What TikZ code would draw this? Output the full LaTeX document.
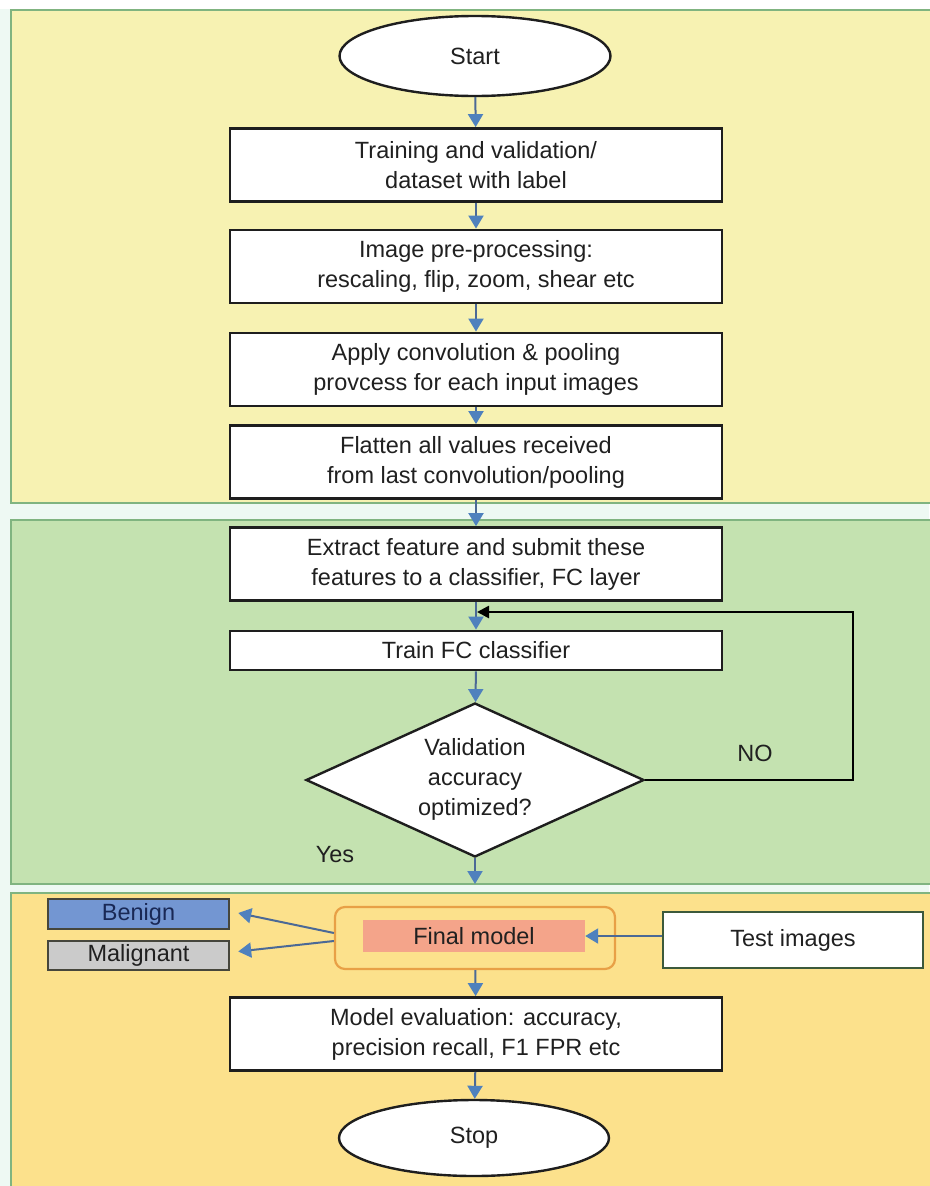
\documentclass[tikz,border=0pt]{standalone}
\usepackage{fontspec}
\newfontfamily\bodyfont{Liberation Sans}
\usetikzlibrary{shapes.geometric,arrows.meta,calc}
\definecolor{yellowp}{RGB}{247,242,178}
\definecolor{greenp}{RGB}{196,226,176}
\definecolor{orangep}{RGB}{252,225,140}
\definecolor{panelb}{RGB}{128,180,128}
\definecolor{gapc}{RGB}{238,249,243}
\definecolor{arrc}{RGB}{79,129,189}
\definecolor{arrline}{RGB}{75,105,150}
\definecolor{boxline}{RGB}{30,30,30}
\definecolor{txt}{RGB}{32,32,32}
\definecolor{fmline}{RGB}{232,160,70}
\definecolor{fmfill}{RGB}{244,164,138}
\definecolor{testline}{RGB}{60,90,60}
\definecolor{benfill}{RGB}{115,150,210}
\definecolor{benline}{RGB}{70,70,60}
\definecolor{malfill}{RGB}{203,203,203}
\definecolor{bentext}{RGB}{25,40,85}
\begin{document}
\begin{tikzpicture}[x=1pt,y=-1pt,
  every node/.style={font=\bodyfont\fontsize{23.5}{30}\selectfont, text=txt, inner sep=0pt, align=center},
  panel/.style={draw=panelb, line width=2pt},
  proc/.style={draw=boxline, line width=2.8pt, fill=white, minimum width=492pt, minimum height=73pt},
  term/.style={ellipse, draw=boxline, line width=2.4pt, fill=white, minimum width=271pt, minimum height=80pt},
  arr/.style={draw=arrline, line width=2pt, -{Triangle[length=13pt,width=15pt,color=arrc]}},
  looparr/.style={draw=black, line width=2.6pt, -{Triangle[length=12pt,width=12pt]}},
  lab/.style={minimum width=181pt, minimum height=30pt, draw=benline, line width=2.4pt}
]
\useasboundingbox (0,0) rectangle (929,1186);
\fill[gapc] (0,0) rectangle (929,1186);
\fill[white] (0,0) rectangle (929,9);
% panels
\draw[panel, fill=yellowp] (11,10) rectangle (945,503);
\draw[panel, fill=greenp] (11,520) rectangle (945,884);
\draw[panel, fill=orangep] (11,893) rectangle (945,1200);

% nodes
\node[term] (start) at (475,56) {Start};
\node[proc] (b1) at (476,165) {Training and validation/\\dataset with label};
\node[proc] (b2) at (476,266.5) {Image pre-processing:\\rescaling, flip, zoom, shear etc};
\node[proc] (b3) at (476,369.5) {Apply convolution \& pooling\\provcess for each input images};
\node[proc] (b4) at (476,462) {Flatten all values received\\from last convolution/pooling};
\node[proc] (b5) at (476,564) {Extract feature and submit these\\features to a classifier, FC layer};
\node[proc, minimum height=39pt] (train) at (476,650.5) {Train FC classifier};
\node[diamond, draw=boxline, line width=2.4pt, fill=white, aspect=2.2, minimum width=338pt, minimum height=154pt] (dia) at (475,780) {};
\node (diatext) at (475,779) {Validation\\accuracy\\optimized?};
\node (no) at (755,753) {NO};
\node (yes) at (335,855) {Yes};
\coordinate (dyend) at (475,884);
\coordinate (loopc) at (853,780);
\coordinate (loopend) at (477,612);

\node[draw=fmline, line width=2.2pt, rounded corners=10pt, fill=orangep, minimum width=280pt, minimum height=62pt] (fm) at (475,938) {};
\node[fill=fmfill, minimum width=222pt, minimum height=32pt] (fmi) at (474,936) {Final model};
\node[draw=testline, line width=2.6pt, fill=white, minimum width=260pt, minimum height=56pt] (test) at (793,940) {Test images};
\node[lab, fill=benfill, text=bentext] (ben) at (138.5,914) {Benign};
\node[lab, fill=malfill, minimum height=29pt] (mal) at (138.5,955.5) {Malignant};

\node[proc] (eval) at (476,1034) {Model evaluation: accuracy,\\precision recall, F1 FPR etc};
\node[term, minimum width=270pt, minimum height=76pt] (stop) at (474,1138) {Stop};

% connectors
\draw[arr] (start) -- (b1);
\draw[arr] (b1) -- (b2);
\draw[arr] (b2) -- (b3);
\draw[arr] (b3) -- (b4);
\draw[arr] (b4) -- (b5);
\draw[arr] (b5) -- (train);
\draw[arr] (train) -- (dia);
\draw[arr] (dia.south) -- (dyend);
\draw[looparr] (dia.east) -- (loopc) |- (loopend);
\draw[arr] (test.west |- fmi.east) -- (fmi.east);
\draw[arr] ([yshift=5pt]fm.west) -- ([xshift=8pt,yshift=1pt]ben.east);
\draw[arr] ([yshift=-3pt]fm.west) -- ([xshift=8pt,yshift=4pt]mal.east);
\draw[arr] (fm) -- (eval);
\draw[arr] (eval) -- (stop);
\end{tikzpicture}
\end{document}
